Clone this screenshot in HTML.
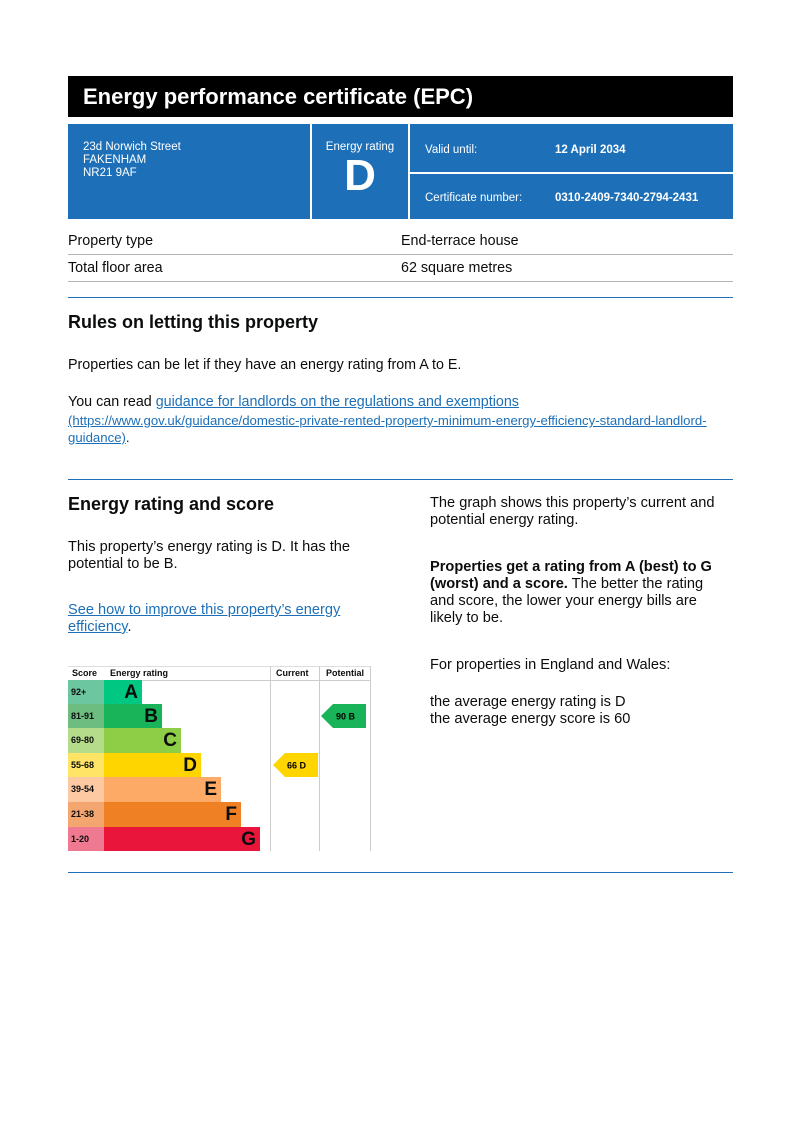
<!DOCTYPE html>
<html><head><meta charset="utf-8"><style>
body{margin:0;width:800px;height:1133px;background:#fff;font-family:"Liberation Sans",Arial,sans-serif;color:#0b0c0c;position:relative;overflow:hidden}
.a{position:absolute;white-space:nowrap}
.blue{background:#1d70b8;position:absolute;color:#fff}
.hr{position:absolute;left:68px;width:665px;height:1px;background:#1d70b8}
.gr{position:absolute;left:68px;width:665px;height:1px;background:#b1b4b6}
a{color:#1d70b8;text-decoration:underline}
.t{font-size:14.3px}
.u{font-size:14.6px}
.sc{position:absolute;left:68px;width:36px;font-size:9px;font-weight:bold;line-height:24px;padding-left:3px;box-sizing:border-box}
.bar{position:absolute;left:104px;font-size:19px;font-weight:bold;text-align:right;line-height:25px;padding-right:4px;box-sizing:border-box;color:#0b0c0c}
</style></head><body>
<div class="a" style="left:68px;top:76px;width:665px;height:41px;background:#000"></div>
<div class="a" style="left:83px;top:84px;font-size:22px;font-weight:bold;color:#fff">Energy performance certificate (EPC)</div>

<div class="blue" style="left:68px;top:124px;width:242px;height:95px"></div>
<div class="a" style="left:83px;top:141px;font-size:11.5px;color:#fff;line-height:13px">23d Norwich Street<br>FAKENHAM<br>NR21 9AF</div>
<div class="blue" style="left:312px;top:124px;width:96px;height:95px"></div>
<div class="a" style="left:312px;width:96px;text-align:center;top:141px;font-size:11.5px;color:#fff">Energy rating</div>
<div class="a" style="left:312px;width:96px;text-align:center;top:151px;font-size:44px;font-weight:bold;color:#fff">D</div>
<div class="blue" style="left:410px;top:124px;width:323px;height:48px"></div>
<div class="blue" style="left:410px;top:174px;width:323px;height:45px"></div>
<div class="a" style="left:425px;top:144px;font-size:11.5px;color:#fff">Valid until:</div>
<div class="a" style="left:555px;top:144px;font-size:11.5px;font-weight:bold;color:#fff">12 April 2034</div>
<div class="a" style="left:425px;top:192px;font-size:11.5px;color:#fff">Certificate number:</div>
<div class="a" style="left:555px;top:192px;font-size:11.5px;font-weight:bold;color:#fff">0310-2409-7340-2794-2431</div>

<div class="a t" style="left:68px;top:233px">Property type</div>
<div class="a t" style="left:401px;top:233px">End-terrace house</div>
<div class="gr" style="top:254px"></div>
<div class="a t" style="left:68px;top:260px">Total floor area</div>
<div class="a t" style="left:401px;top:260px">62 square metres</div>
<div class="gr" style="top:281px"></div>
<div class="hr" style="top:297px"></div>

<div class="a" style="left:68px;top:312px;font-size:18px;font-weight:bold">Rules on letting this property</div>
<div class="a t" style="left:68px;top:357px">Properties can be let if they have an energy rating from A to E.</div>
<div class="a t" style="left:68px;top:394px">You can read <a>guidance for landlords on the regulations and exemptions</a></div>
<div class="a" style="left:68px;top:412px;font-size:13.2px;line-height:17px"><a>(https://www.gov.uk/guidance/domestic-private-rented-property-minimum-energy-efficiency-standard-landlord-<br>guidance)</a>.</div>
<div class="hr" style="top:479px"></div>

<div class="a" style="left:68px;top:494px;font-size:18px;font-weight:bold">Energy rating and score</div>
<div class="a u" style="left:68px;top:539px;line-height:17px">This property’s energy rating is D. It has the<br>potential to be B.</div>
<div class="a u" style="left:68px;top:602px;line-height:17px"><a>See how to improve this property’s energy<br>efficiency</a>.</div>

<div class="a u" style="left:430px;top:495px;line-height:17px">The graph shows this property’s current and<br>potential energy rating.</div>
<div class="a u" style="left:430px;top:559px;line-height:17px"><b>Properties get a rating from A (best) to G<br>(worst) and a score.</b> The better the rating<br>and score, the lower your energy bills are<br>likely to be.</div>
<div class="a u" style="left:430px;top:657px">For properties in England and Wales:</div>
<div class="a u" style="left:430px;top:694px;line-height:17px">the average energy rating is D<br>the average energy score is 60</div>

<!-- chart -->
<div class="a" style="left:68px;top:666px;width:302px;height:1px;background:#ddd"></div>
<div class="a" style="left:68px;top:680px;width:302px;height:1px;background:#ccc"></div>
<div class="a" style="left:270px;top:666px;width:1px;height:185px;background:#ccc"></div>
<div class="a" style="left:319px;top:666px;width:1px;height:185px;background:#ccc"></div>
<div class="a" style="left:370px;top:666px;width:1px;height:185px;background:#ccc"></div>
<div class="a" style="left:72px;top:668px;font-size:9px;font-weight:bold">Score</div>
<div class="a" style="left:110px;top:668px;font-size:9px;font-weight:bold">Energy rating</div>
<div class="a" style="left:276px;top:668px;font-size:9px;font-weight:bold">Current</div>
<div class="a" style="left:326px;top:668px;font-size:9px;font-weight:bold">Potential</div>

<div class="sc" style="top:680px;height:24px;background:#6cc7a0">92+</div>
<div class="bar" style="top:680px;height:24px;width:38px;background:#00c781">A</div>
<div class="sc" style="top:704px;height:24px;background:#6dbc80">81-91</div>
<div class="bar" style="top:704px;height:24px;width:58px;background:#19b459">B</div>
<div class="sc" style="top:728px;height:25px;background:#b5dc8a">69-80</div>
<div class="bar" style="top:728px;height:25px;width:77px;background:#8dce46">C</div>
<div class="sc" style="top:753px;height:24px;background:#ffe466">55-68</div>
<div class="bar" style="top:753px;height:24px;width:97px;background:#ffd500">D</div>
<div class="sc" style="top:777px;height:25px;background:#fdc9a3">39-54</div>
<div class="bar" style="top:777px;height:25px;width:117px;background:#fcaa65">E</div>
<div class="sc" style="top:802px;height:25px;background:#f3a670">21-38</div>
<div class="bar" style="top:802px;height:25px;width:137px;background:#ef8023">F</div>
<div class="sc" style="top:827px;height:24px;background:#ee7990">1-20</div>
<div class="bar" style="top:827px;height:24px;width:156px;background:#e9153b">G</div>

<svg class="a" style="left:0;top:0" width="800" height="1133">
<polygon points="273,765 285,753 318,753 318,777 285,777" fill="#ffd500"/>
<polygon points="321,716 333,704 366,704 366,728 333,728" fill="#19b459"/>
<text x="287" y="768.5" font-size="9" font-weight="bold" font-family="Liberation Sans">66  D</text>
<text x="336" y="719.5" font-size="9" font-weight="bold" font-family="Liberation Sans">90  B</text>
</svg>

<div class="hr" style="top:872px"></div>
</body></html>
